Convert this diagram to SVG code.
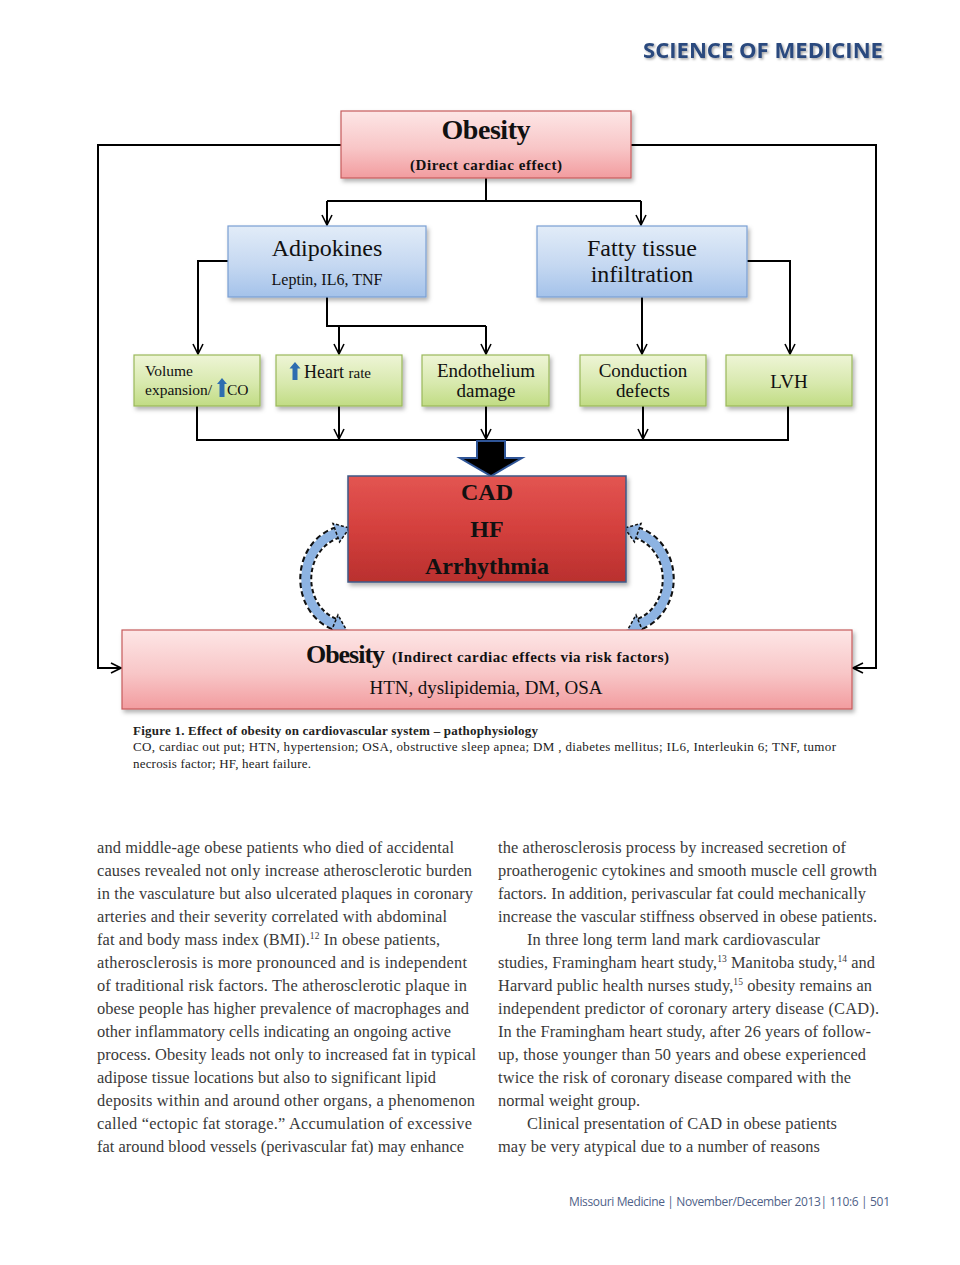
<svg xmlns="http://www.w3.org/2000/svg" width="960" height="1265" viewBox="0 0 960 1265">
<defs>
<linearGradient id="gPink" x1="0" y1="0" x2="0" y2="1"><stop offset="0" stop-color="#fde6e6"/><stop offset="0.55" stop-color="#f8c6c7"/><stop offset="1" stop-color="#f29c9f"/></linearGradient>
<linearGradient id="gBlue" x1="0" y1="0" x2="0" y2="1"><stop offset="0" stop-color="#e2ecf8"/><stop offset="0.55" stop-color="#c5d8f1"/><stop offset="1" stop-color="#a4c2ea"/></linearGradient>
<linearGradient id="gGreen" x1="0" y1="0" x2="0" y2="1"><stop offset="0" stop-color="#eef5d6"/><stop offset="0.55" stop-color="#d8e9ae"/><stop offset="1" stop-color="#c1dc84"/></linearGradient>
<linearGradient id="gRed" x1="0" y1="0" x2="0" y2="1"><stop offset="0" stop-color="#e35552"/><stop offset="0.5" stop-color="#d4403d"/><stop offset="1" stop-color="#b9302e"/></linearGradient>
<filter id="sh" x="-10%" y="-10%" width="120%" height="130%"><feDropShadow dx="2" dy="3" stdDeviation="2" flood-color="#000" flood-opacity="0.3"/></filter>
<filter id="tsh" x="-5%" y="-20%" width="110%" height="150%"><feDropShadow dx="1.5" dy="1.5" stdDeviation="1.2" flood-color="#000" flood-opacity="0.35"/></filter>
<marker id="ah" viewBox="0 0 12 12" refX="11" refY="6" markerWidth="12" markerHeight="12" markerUnits="userSpaceOnUse" orient="auto"><path d="M1,1 L11,6 L1,11" fill="none" stroke="#000" stroke-width="1.6"/></marker>
<g id="curl">
<path d="M334,624 C296,608 296,548 336,533" fill="none" stroke="#111" stroke-width="13" stroke-dasharray="5 3"/>
<path d="M334,624 C296,608 296,548 336,533" fill="none" stroke="#8db3e2" stroke-width="9"/>
<polygon points="349.5,528 339.5,542 333,523.5" fill="#8db3e2" stroke="#111" stroke-width="1.5" stroke-dasharray="3 2"/>
<polygon points="347,631 330,634 338,615" fill="#8db3e2" stroke="#111" stroke-width="1.5" stroke-dasharray="3 2"/>
</g>
</defs>
<style>
.ln{fill:none;stroke:#000;stroke-width:2}
.pink{fill:url(#gPink);stroke:#c65a5c;stroke-width:1.2}
.blue{fill:url(#gBlue);stroke:#7a9fd3;stroke-width:1.2}
.green{fill:url(#gGreen);stroke:#9ab85a;stroke-width:1.2}
.red{fill:url(#gRed);stroke:#3c5a86;stroke-width:1.5}
.sf{font-family:"Liberation Serif","Times New Roman",serif;fill:#111}
.b{font-weight:bold}
.c{text-anchor:middle}
.body{font-family:"Liberation Serif","Times New Roman",serif;font-size:16.4px;fill:#3a3a3a}
.cap{font-family:"Liberation Serif","Times New Roman",serif;font-size:13px;fill:#222}
.sup{font-size:9.5px}
</style>

<text x="643" y="58" font-family="'Open Sans','Liberation Sans',sans-serif" font-weight="bold" font-size="21" fill="#2b4a7e" textLength="240" lengthAdjust="spacingAndGlyphs" filter="url(#tsh)">SCIENCE OF MEDICINE</text>

<g id="connectors">
<polyline class="ln" points="341,145 98,145 98,668 121,668" marker-end="url(#ah)"/>
<polyline class="ln" points="631,145 876,145 876,668 853,668" marker-end="url(#ah)"/>
<polyline class="ln" points="486,178 486,201"/>
<polyline class="ln" points="327,201 641,201"/>
<polyline class="ln" points="327,201 327,225" marker-end="url(#ah)"/>
<polyline class="ln" points="641,201 641,225" marker-end="url(#ah)"/>
<polyline class="ln" points="228,261 198,261 198,354" marker-end="url(#ah)"/>
<polyline class="ln" points="327,297 327,326 486,326"/>
<polyline class="ln" points="339,326 339,354" marker-end="url(#ah)"/>
<polyline class="ln" points="486,326 486,354" marker-end="url(#ah)"/>
<polyline class="ln" points="642,297 642,354" marker-end="url(#ah)"/>
<polyline class="ln" points="747,261 790,261 790,354" marker-end="url(#ah)"/>
<polyline class="ln" points="197,406 197,440 788,440 788,406"/>
<polyline class="ln" points="339,406 339,439" marker-end="url(#ah)"/>
<polyline class="ln" points="486,406 486,439" marker-end="url(#ah)"/>
<polyline class="ln" points="643,406 643,439" marker-end="url(#ah)"/>
<polygon points="477,441 505,441 505,458 522,458 491,476 460,458 477,458" fill="#000" stroke="#2f5597" stroke-width="2" stroke-linejoin="miter"/>
<use href="#curl"/>
<use href="#curl" transform="translate(974,0) scale(-1,1)"/>
</g>

<g id="obesity-direct">
<rect class="pink" x="341" y="111" width="290" height="67" filter="url(#sh)"/>
<text class="sf b c" x="486" y="139" font-size="28" textLength="89">Obesity</text>
<text class="sf b c" x="486" y="170" font-size="15" textLength="152">(Direct cardiac effect)</text>
</g>

<g id="adipokines">
<rect class="blue" x="228" y="226" width="198" height="71" filter="url(#sh)"/>
<text class="sf c" x="327" y="256" font-size="24">Adipokines</text>
<text class="sf c" x="327" y="285" font-size="16" textLength="111">Leptin, IL6, TNF</text>
</g>

<g id="fatty-tissue">
<rect class="blue" x="537" y="226" width="210" height="71" filter="url(#sh)"/>
<text class="sf c" x="642" y="256" font-size="24">Fatty tissue</text>
<text class="sf c" x="642" y="282" font-size="24">infiltration</text>
</g>

<g id="volume">
<rect class="green" x="134" y="355" width="126" height="51" filter="url(#sh)"/>
<text class="sf" x="145" y="376" font-size="15.5">Volume</text>
<text class="sf" x="145" y="395" font-size="15.5">expansion/</text>
<polygon points="222,378 227,384 224.5,384 224.5,397 219.5,397 219.5,384 217,384" fill="#2e6db0"/>
<text class="sf" x="227" y="395" font-size="15.5">CO</text>
</g>

<g id="heart-rate">
<rect class="green" x="276" y="355" width="126" height="51" filter="url(#sh)"/>
<polygon points="295,362 300.5,368.5 297.5,368.5 297.5,380 292.5,380 292.5,368.5 289.5,368.5" fill="#2e6db0"/>
<text class="sf" x="304" y="378" font-size="18">Heart <tspan font-size="15">rate</tspan></text>
</g>

<g id="endothelium">
<rect class="green" x="422" y="355" width="127" height="51" filter="url(#sh)"/>
<text class="sf c" x="486" y="377" font-size="19">Endothelium</text>
<text class="sf c" x="486" y="397" font-size="19">damage</text>
</g>

<g id="conduction">
<rect class="green" x="580" y="355" width="126" height="51" filter="url(#sh)"/>
<text class="sf c" x="643" y="377" font-size="19">Conduction</text>
<text class="sf c" x="643" y="397" font-size="19">defects</text>
</g>

<g id="lvh">
<rect class="green" x="726" y="355" width="126" height="51" filter="url(#sh)"/>
<text class="sf c" x="789" y="388" font-size="19">LVH</text>
</g>

<g id="cad">
<rect class="red" x="348" y="476" width="278" height="106" filter="url(#sh)"/>
<text class="sf b c" x="487" y="500" font-size="24" fill="#1a1a1a">CAD</text>
<text class="sf b c" x="487" y="537" font-size="24" fill="#1a1a1a">HF</text>
<text class="sf b c" x="487" y="574" font-size="24" fill="#1a1a1a">Arrhythmia</text>
</g>

<g id="obesity-indirect">
<rect class="pink" x="122" y="630" width="730" height="79" filter="url(#sh)"/>
<text class="sf b" x="306" y="663" font-size="26" textLength="79">Obesity</text>
<text class="sf b" x="392" y="662" font-size="15" textLength="277">(Indirect cardiac effects via risk factors)</text>
<text class="sf c" x="486" y="694" font-size="19" textLength="233">HTN, dyslipidemia, DM, OSA</text>
</g>

<g id="caption">
<text class="cap b" x="133" y="735" textLength="405">Figure 1. Effect of obesity on cardiovascular system – pathophysiology</text>
<text class="cap" x="133" y="751" textLength="703">CO, cardiac out put;  HTN, hypertension;  OSA, obstructive sleep apnea;  DM , diabetes mellitus;  IL6, Interleukin 6; TNF, tumor</text>
<text class="cap" x="133" y="768" textLength="178">necrosis factor; HF, heart failure.</text>
</g>

<g id="body-left">
<text class="body" x="97" y="853" textLength="357">and middle-age obese patients who died of accidental</text>
<text class="body" x="97" y="876" textLength="375">causes revealed not only increase atherosclerotic burden</text>
<text class="body" x="97" y="899" textLength="376">in the vasculature but also ulcerated plaques in coronary</text>
<text class="body" x="97" y="922" textLength="350">arteries and their severity correlated with abdominal</text>
<text class="body" x="97" y="945" textLength="343">fat and body mass index (BMI).<tspan class="sup" dy="-6">12</tspan><tspan dy="6"> In obese patients,</tspan></text>
<text class="body" x="97" y="968" textLength="370">atherosclerosis is more pronounced and is independent</text>
<text class="body" x="97" y="991" textLength="370">of traditional risk factors. The atherosclerotic plaque in</text>
<text class="body" x="97" y="1014" textLength="372">obese people has higher prevalence of macrophages and</text>
<text class="body" x="97" y="1037" textLength="354">other inflammatory cells indicating an ongoing active</text>
<text class="body" x="97" y="1060" textLength="379">process. Obesity leads not only to increased fat in typical</text>
<text class="body" x="97" y="1083" textLength="339">adipose tissue locations but also to significant lipid</text>
<text class="body" x="97" y="1106" textLength="378">deposits within and around other organs, a phenomenon</text>
<text class="body" x="97" y="1129" textLength="375">called “ectopic fat storage.” Accumulation of excessive</text>
<text class="body" x="97" y="1152" textLength="367">fat around blood vessels (perivascular fat) may enhance</text>
</g>

<g id="body-right">
<text class="body" x="498" y="853" textLength="348">the atherosclerosis process by increased secretion of</text>
<text class="body" x="498" y="876" textLength="379">proatherogenic cytokines and smooth muscle cell growth</text>
<text class="body" x="498" y="899" textLength="368">factors. In addition, perivascular fat could mechanically</text>
<text class="body" x="498" y="922" textLength="379">increase the vascular stiffness observed in obese patients.</text>
<text class="body" x="527" y="945" textLength="293">In three long term land mark cardiovascular</text>
<text class="body" x="498" y="968" textLength="377">studies, Framingham heart study,<tspan class="sup" dy="-6">13</tspan><tspan dy="6"> Manitoba study,</tspan><tspan class="sup" dy="-6">14</tspan><tspan dy="6"> and</tspan></text>
<text class="body" x="498" y="991" textLength="374">Harvard public health nurses study,<tspan class="sup" dy="-6">15</tspan><tspan dy="6"> obesity remains an</tspan></text>
<text class="body" x="498" y="1014" textLength="381">independent predictor of coronary artery disease (CAD).</text>
<text class="body" x="498" y="1037" textLength="373">In the Framingham heart study, after 26 years of follow-</text>
<text class="body" x="498" y="1060" textLength="368">up, those younger than 50 years and obese experienced</text>
<text class="body" x="498" y="1083" textLength="353">twice the risk of coronary disease compared with the</text>
<text class="body" x="498" y="1106" textLength="142">normal weight group.</text>
<text class="body" x="527" y="1129" textLength="310">Clinical presentation of CAD in obese patients</text>
<text class="body" x="498" y="1152" textLength="322">may be very atypical due to a number of reasons</text>
</g>

<text x="569" y="1206" font-family="'Open Sans','Liberation Sans',sans-serif" font-size="12" fill="#4f6288" textLength="321">Missouri Medicine | November/December 2013| 110:6 | 501</text>
</svg>
